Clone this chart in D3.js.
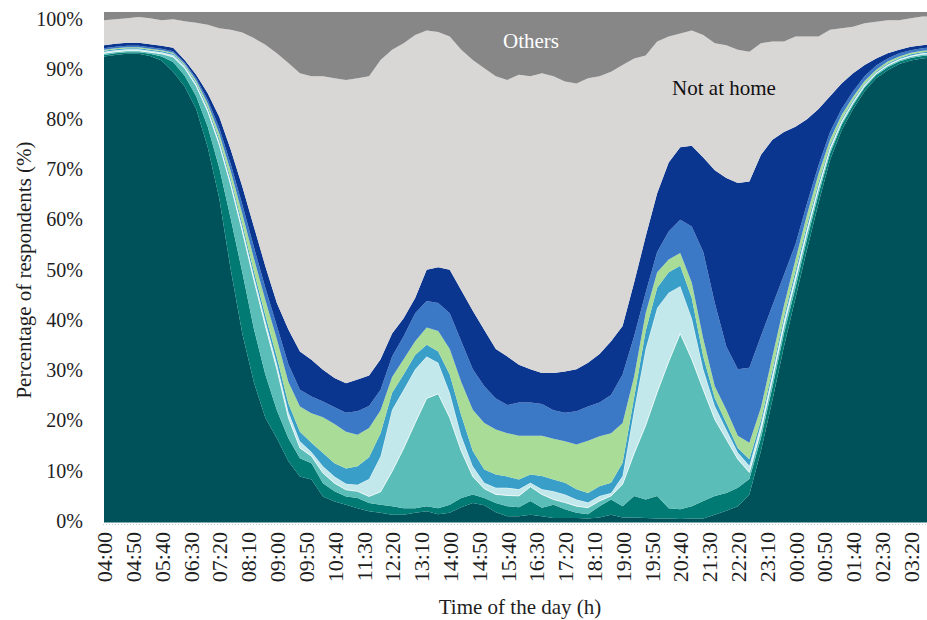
<!DOCTYPE html>
<html>
<head>
<meta charset="utf-8">
<script src="https://cdn.jsdelivr.net/npm/d3@7"></script>
<style>
  body { margin: 0; background: #fff; }
  svg text { font-family: "Liberation Serif", "Times New Roman", serif; }
</style>
</head>
<body>
<svg id="chart" width="927" height="620"></svg>
<script>
// Sampling times (every 20 minutes across the survey day, 04:00 to 03:50)
const times = ["04:00","04:20","04:40","05:00","05:20","05:40","06:00","06:20","06:40","07:00",
  "07:20","07:40","08:00","08:20","08:40","09:00","09:20","09:40","10:00","10:20",
  "10:40","11:00","11:20","11:40","12:00","12:20","12:40","13:00","13:20","13:40",
  "14:00","14:20","14:40","15:00","15:20","15:40","16:00","16:20","16:40","17:00",
  "17:20","17:40","18:00","18:20","18:40","19:00","19:20","19:40","20:00","20:20",
  "20:40","21:00","21:20","21:40","22:00","22:20","22:40","23:00","23:20","23:40",
  "00:00","00:20","00:40","01:00","01:20","01:40","02:00","02:20","02:40","03:00",
  "03:20","03:40","03:50"];

// Share of respondents (%) per activity, stacked bottom to top
const home1 = [91.3,91.6,91.8,91.8,91.4,90.5,88.3,85.4,81.0,73.5,
  63.5,49.5,37.0,27.5,20.5,16.5,12.0,9.0,8.4,5.1,
  4.1,3.5,2.8,2.2,1.9,1.5,1.5,1.9,2.2,1.6,
  1.9,3.0,3.8,3.4,2.0,1.2,1.2,1.5,1.2,0.9,
  0.9,0.9,0.8,1.0,1.5,1.0,1.0,0.9,0.8,0.8,
  0.7,0.8,0.8,1.5,2.3,3.2,5.5,14.0,24.0,34.5,
  44.0,53.5,62.6,71.0,76.8,81.0,84.5,87.0,88.6,89.8,
  90.5,90.9,91.0];
const home2 = [0.3,0.3,0.3,0.3,0.4,0.8,1.9,2.1,2.5,4.0,
  6.0,10.0,12.0,10.5,8.5,5.5,4.5,3.6,3.2,2.6,
  2.0,1.6,2.0,1.6,1.6,1.7,1.3,0.9,1.0,1.2,
  1.6,1.8,1.7,1.4,1.8,2.0,1.8,2.7,1.7,2.6,
  1.7,1.0,0.8,2.2,3.0,2.2,4.2,3.6,4.4,2.0,
  1.9,2.4,3.4,3.7,3.5,3.6,3.0,2.5,2.5,2.5,
  2.0,2.0,1.7,1.3,1.0,0.8,0.7,0.6,0.6,0.5,
  0.5,0.5,0.5];
const home3 = [0.3,0.3,0.3,0.3,0.3,0.5,1.0,1.5,2.0,3.0,
  4.5,6.5,8.0,9.5,9.5,8.0,4.0,2.0,1.4,2.0,
  1.6,1.3,1.3,1.3,2.5,6.8,11.7,16.7,21.1,22.4,
  17.0,9.2,3.5,1.8,1.7,2.1,2.2,2.8,2.6,1.0,
  1.3,1.3,1.3,1.0,0.7,4.3,8.3,14.5,20.3,28.7,
  34.4,28.8,21.8,15.0,10.5,5.6,1.3,1.5,1.5,1.5,
  1.5,1.3,1.1,0.7,0.5,0.4,0.3,0.3,0.3,0.3,
  0.3,0.3,0.3];
const home4 = [0.3,0.3,0.3,0.3,0.3,0.3,0.4,0.3,0.4,0.5,
  0.6,0.7,0.8,0.9,1.0,1.1,1.2,1.3,0.8,1.3,
  1.3,1.2,1.3,3.4,7.0,12.1,11.5,10.5,8.2,6.1,
  4.9,3.0,2.0,1.2,1.3,1.5,1.3,0.8,1.0,1.6,
  1.6,1.3,1.0,1.0,0.6,1.6,8.5,15.0,16.5,13.5,
  9.3,8.0,4.0,2.6,1.9,1.3,1.3,1.2,1.0,1.0,
  1.0,0.8,0.6,0.5,0.4,0.3,0.3,0.2,0.2,0.2,
  0.2,0.2,0.2];
const home5 = [0.2,0.2,0.2,0.2,0.2,0.2,0.2,0.2,0.3,0.4,
  0.5,0.6,0.7,0.9,1.1,1.3,1.6,1.9,1.8,2.6,
  2.6,3.0,3.6,4.3,4.5,3.3,3.0,2.8,2.3,2.2,
  3.6,4.0,3.0,2.6,2.6,2.2,1.9,1.6,2.6,2.3,
  2.3,2.0,1.9,1.9,2.0,2.6,2.5,3.5,4.0,4.0,
  4.0,4.0,2.5,1.6,1.3,0.9,1.3,0.8,0.8,0.8,
  0.8,0.7,0.6,0.4,0.3,0.3,0.2,0.2,0.2,0.2,
  0.2,0.2,0.2];
const home6 = [0.2,0.2,0.2,0.2,0.2,0.2,0.2,0.3,0.4,0.7,
  1.1,1.5,2.0,2.5,3.0,3.5,4.2,4.9,5.8,7.0,
  7.7,7.2,6.2,5.7,4.5,3.1,3.0,2.7,3.4,4.0,
  5.0,6.5,8.1,9.1,8.8,8.5,8.6,7.6,7.9,8.0,
  8.1,8.8,10.2,9.8,9.7,7.8,4.1,3.5,3.0,2.5,
  2.5,3.0,3.5,2.3,2.6,2.4,3.2,2.5,2.7,2.2,
  2.2,2.0,1.7,1.1,0.8,0.6,0.5,0.4,0.4,0.3,
  0.3,0.3,0.3];
const home7 = [0.3,0.3,0.3,0.3,0.3,0.3,0.3,0.3,0.4,0.7,
  1.1,1.4,1.8,2.2,2.4,2.6,3.5,3.3,3.3,3.1,
  3.3,3.7,4.6,4.3,4.0,4.0,4.5,5.5,5.2,5.5,
  7.0,8.0,7.9,7.2,6.1,5.5,6.5,6.5,6.2,5.6,
  5.6,6.5,6.7,6.6,7.5,9.5,7.9,4.0,4.0,5.5,
  6.5,11.0,17.0,16.3,12.4,13.0,14.7,14.0,10.0,6.0,
  3.0,2.2,1.7,1.5,1.2,1.1,0.9,0.8,0.6,0.6,
  0.5,0.5,0.5];
const home8 = [0.6,0.6,0.6,0.6,0.6,0.6,0.7,0.5,0.7,1.3,
  2.2,2.8,3.5,4.0,4.2,4.5,6.8,7.5,7.2,6.2,
  5.7,5.8,6.2,6.0,6.0,4.5,3.5,3.0,6.1,7.0,
  8.5,10.0,11.5,11.0,9.7,9.5,7.4,6.5,6.1,7.3,
  8.1,8.2,8.6,9.5,10.5,9.5,10.5,11.0,11.5,13.5,
  14.2,15.8,18.5,26.0,33.0,36.5,36.5,35.5,32.5,28.0,
  23.0,16.5,11.0,7.0,5.0,3.5,2.2,1.4,1.0,0.7,
  0.7,0.6,0.6];
const notAtHome = [4.9,4.8,4.8,5.0,5.1,5.0,5.6,7.6,10.2,13.4,
  17.3,23.5,30.2,36.9,43.4,48.9,52.2,54.5,55.5,57.5,
  58.7,59.4,59.0,58.6,58.6,55.6,53.9,51.5,46.9,46.1,
  45.7,47.1,49.1,51.3,53.4,54.2,56.8,57.4,58.7,58.1,
  56.8,56.0,55.7,54.4,52.8,51.1,43.9,35.5,29.7,24.7,
  22.3,22.6,24.0,24.9,26.0,26.1,25.4,21.9,19.2,17.7,
  17.7,16.2,14.2,13.0,10.8,9.1,8.2,7.2,6.5,5.8,
  5.6,5.6,5.5];
const others = [1.6,1.4,1.2,1.0,1.2,1.6,1.4,1.8,2.1,2.5,
  3.2,3.5,4.0,5.1,6.4,8.1,10.0,12.0,12.6,12.6,
  13.0,13.3,13.0,12.6,9.4,7.4,6.1,4.5,3.6,3.9,
  4.8,7.4,9.4,11.0,12.6,13.3,12.3,12.6,12.0,12.6,
  13.6,14.0,13.0,12.6,11.7,10.4,9.1,8.5,5.8,4.8,
  4.2,3.6,4.5,6.1,6.5,7.4,7.8,6.1,5.8,5.8,
  4.8,4.8,4.8,3.5,3.2,2.9,2.2,1.9,1.6,1.6,
  1.2,0.9,0.9];

const tickLabels = ["04:00","04:50","05:40","06:30","07:20","08:10","09:00","09:50","10:40",
  "11:30","12:20","13:10","14:00","14:50","15:40","16:30","17:20","18:10","19:00","19:50",
  "20:40","21:30","22:20","23:10","00:00","00:50","01:40","02:30","03:20"];
const yTicks = [0, 10, 20, 30, 40, 50, 60, 70, 80, 90, 100];

const keys = ["home1","home2","home3","home4","home5","home6","home7","home8","notAtHome","others"];
const series = { home1, home2, home3, home4, home5, home6, home7, home8, notAtHome, others };
const colors = {
  home1: "#00525a", home2: "#007a72", home3: "#5bbdb8", home4: "#c2e8ec",
  home5: "#3a9fc8", home6: "#a9dc96", home7: "#3b79c6", home8: "#0b3690",
  notAtHome: "#d9d6d6", others: "#878787"
};

// minutes elapsed since the 04:00 start of the survey day
const toMin = s => {
  const [h, m] = s.split(":").map(Number);
  return ((h * 60 + m) - 240 + 1440) % 1440;
};

const rows = times.map((t, i) => {
  const r = { t: toMin(t) };
  keys.forEach(k => { r[k] = series[k][i]; });
  return r;
});

const svg = d3.select("#chart");
const plotLeft = 103, plotRight = 927, plotTop = 12, plotBottom = 523;

const x = d3.scaleLinear().domain([0, 1430]).range([104, 928]);
const y = d3.scaleLinear().domain([0, 100]).range([522.5, 12]);
// the percentage labels sit on a slightly tighter ladder than the plot band
const yLabels = d3.scaleLinear().domain([0, 100]).range([520.5, 18.3]);

svg.append("clipPath").attr("id", "plot-clip")
  .append("rect").attr("x", plotLeft).attr("y", plotTop)
  .attr("width", plotRight - plotLeft).attr("height", plotBottom - plotTop);

const stacked = d3.stack().keys(keys)(rows);

const area = d3.area()
  .x(d => x(d.data.t))
  .y0(d => y(d[0]))
  .y1(d => y(d[1]));

const g = svg.append("g").attr("clip-path", "url(#plot-clip)");
g.selectAll("path.layer")
  .data(stacked)
  .join("path")
  .attr("class", "layer")
  .attr("d", area)
  .attr("fill", d => colors[d.key])
  .attr("stroke", d => d.key === "home4" ? "#ffffff" : "none")
  .attr("stroke-width", d => d.key === "home4" ? 0.8 : 0)
  .attr("stroke-opacity", 0.85);

// dotted baseline under the plot
svg.append("line")
  .attr("x1", plotLeft).attr("x2", plotRight)
  .attr("y1", plotBottom + 1.5).attr("y2", plotBottom + 1.5)
  .attr("stroke", "#c8c8c8").attr("stroke-width", 1)
  .attr("stroke-dasharray", "1,2");

// y axis
const yAxis = svg.append("g")
  .attr("transform", `translate(${plotLeft},0)`)
  .call(d3.axisLeft(yLabels).tickValues(yTicks).tickFormat(d => d + "%").tickSize(0).tickPadding(20));
yAxis.select(".domain").remove();
yAxis.selectAll("text")
  .attr("font-size", 20)
  .attr("fill", "#1e1e1e")
  .attr("dy", "0.34em")
  .attr("font-family", "Liberation Serif, Times New Roman, serif");

// x axis with vertical time labels
const xAxis = svg.append("g")
  .attr("transform", `translate(0,${plotBottom})`)
  .call(d3.axisBottom(x)
    .tickValues(tickLabels.map(toMin))
    .tickFormat((d, i) => tickLabels[i])
    .tickSize(0));
xAxis.select(".domain").remove();
xAxis.selectAll("text")
  .attr("font-size", 22)
  .attr("fill", "#1e1e1e")
  .attr("font-family", "Liberation Serif, Times New Roman, serif")
  .attr("text-anchor", "end")
  .attr("transform", "rotate(-90)")
  .attr("x", -9)
  .attr("y", 0)
  .attr("dy", "0.35em");

// axis titles
svg.append("text")
  .attr("transform", "translate(31,270) rotate(-90)")
  .attr("text-anchor", "middle")
  .attr("font-size", 21)
  .attr("fill", "#1e1e1e")
  .text("Percentage of respondents (%)");

svg.append("text")
  .attr("x", 520).attr("y", 614)
  .attr("text-anchor", "middle")
  .attr("font-size", 21)
  .attr("fill", "#1e1e1e")
  .text("Time of the day (h)");

// in-plot labels
svg.append("text")
  .attr("x", 531).attr("y", 48)
  .attr("text-anchor", "middle")
  .attr("font-size", 21)
  .attr("fill", "#ffffff")
  .text("Others");

svg.append("text")
  .attr("x", 724).attr("y", 95)
  .attr("text-anchor", "middle")
  .attr("font-size", 21)
  .attr("fill", "#111111")
  .text("Not at home");
</script>
</body>
</html>
